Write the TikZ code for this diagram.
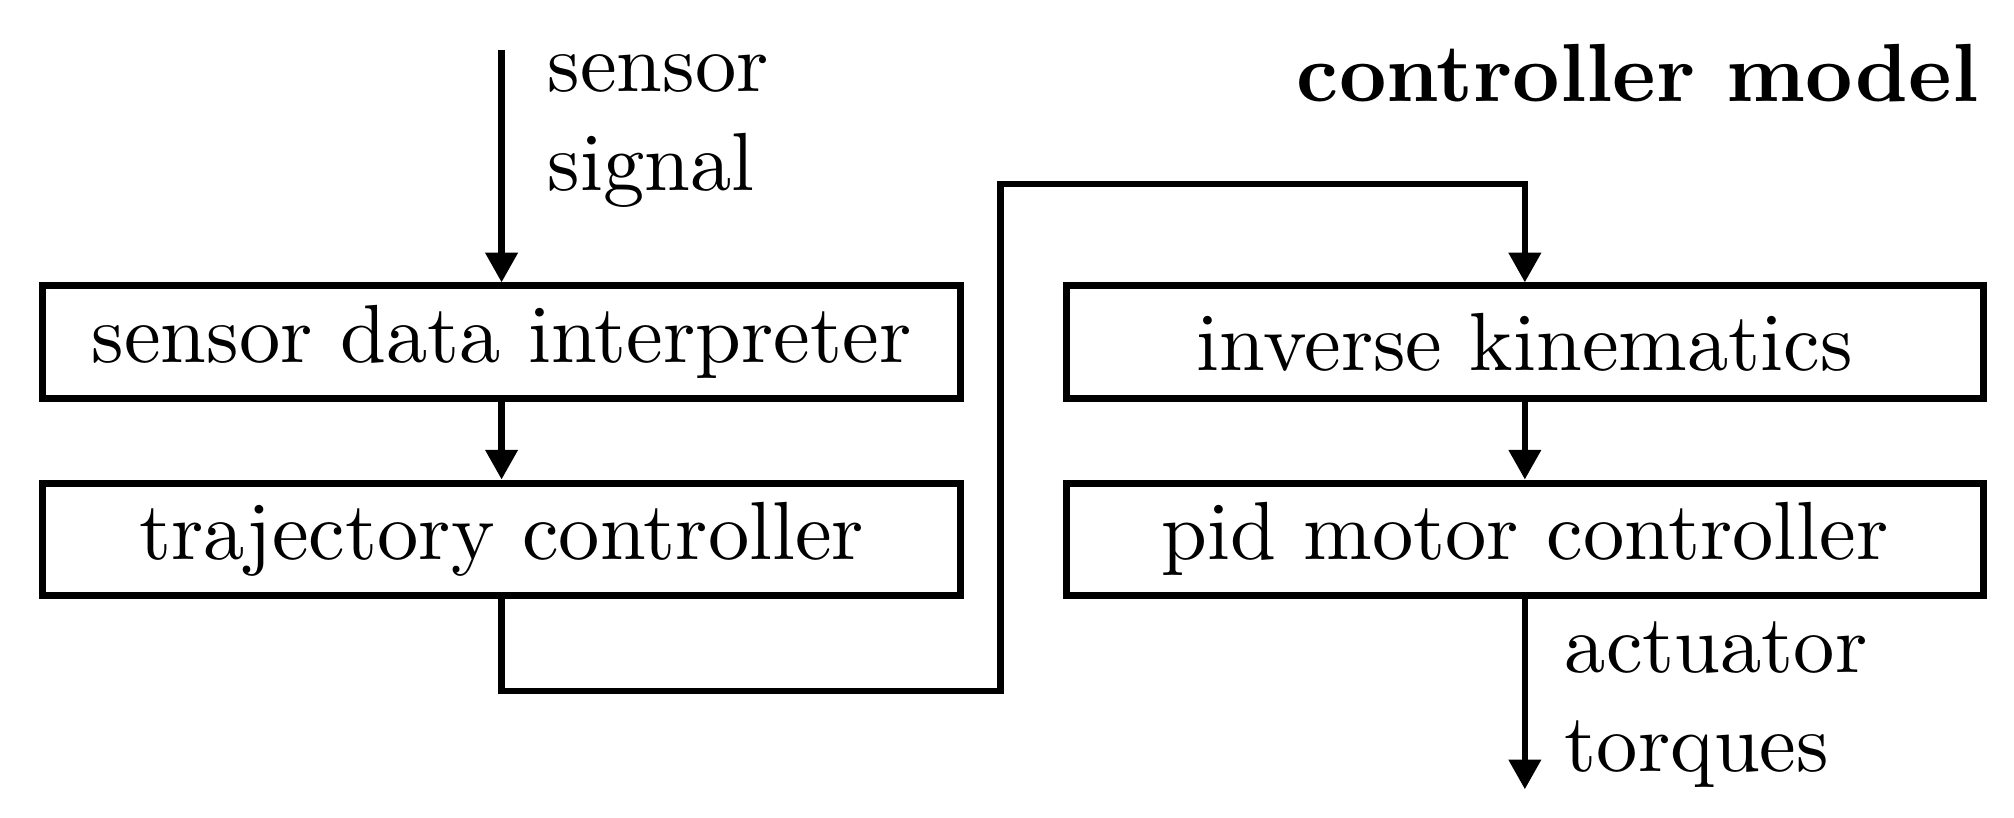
\documentclass[tikz,border=0pt]{standalone}
\usetikzlibrary{positioning,arrows.meta}
\begin{document}
\begin{tikzpicture}
		[block/.style={rectangle,draw,line width=0.85pt,minimum width=3.91cm,minimum height=0.48cm,inner sep=0pt},
		flow/.style={line width=0.75pt,-{Triangle[width=3.8pt,length=3.6pt]}},
		tag/.style={anchor=base west,inner sep=0pt,align=left}]
		\useasboundingbox (0,0) rectangle (8.581,-3.485);
		\node[block,name=sdi] at (2.137,-1.458) {sensor data interpreter};
		\node[block,name=traj,below=0.33cm of sdi] {trajectory controller};
		\node[block,name=ik,right=0.42cm of sdi] {inverse kinematics};
		\node[block,name=pid,below=0.33cm of ik] {pid motor controller};
		\coordinate[above=0.99cm of sdi.north] (in);
		\coordinate[below=0.81cm of pid.south] (out);
		\coordinate (turn) at (4.263,-0.785);
		\draw[flow] (in) -- (sdi.north);
		\draw[flow] (sdi) -- (traj);
		\draw[flow] (traj.south) -- ++(0,-0.39) -| (turn) -| (ik.north);
		\draw[flow] (ik) -- (pid);
		\draw[flow] (pid.south) -- (out);
		\node[tag,name=insig] at (2.326,-0.810) {sensor\\signal};
		\node[tag,name=outsig] at (6.660,-3.289) {actuator\\torques};
		\node[anchor=base east,inner sep=0pt,name=title] at (8.436,-0.433) {\textbf{controller model}};
	\end{tikzpicture}
\end{document}
